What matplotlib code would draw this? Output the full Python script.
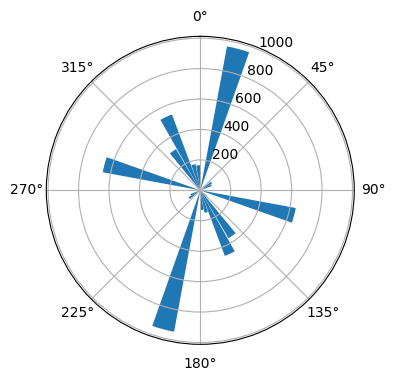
import numpy as np
import matplotlib
matplotlib.use("Agg")
import matplotlib.pyplot as plt

# bin centres (degrees) and bar heights
angles_deg = [5, 15, 25, 35, 45, 55, 65, 75, 85, 95, 105, 115, 125, 135, 145, 155, 165, 175,
              185, 195, 205, 215, 225, 235, 245, 255, 265, 275, 285, 295, 305, 315, 325, 335, 345, 355]
heights = [0, 962, 0, 0, 0, 90, 80, 0, 0, 0, 638, 0, 0, 60, 365, 460, 150, 130,
           0, 945, 0, 0, 0, 90, 70, 0, 0, 0, 652, 0, 0, 0, 314, 532, 175, 165]
bar_width_deg = 9

fig = plt.figure(figsize=(3.96, 3.80), dpi=100)
ax = fig.add_axes([0.1169, 0.0939, 0.7778, 0.8105], projection="polar")
ax.set_theta_zero_location("N")
ax.set_theta_direction(-1)
ax.bar(np.deg2rad(angles_deg), heights, width=np.deg2rad(bar_width_deg), color="C0")
ax.set_ylim(0, 1012)
ax.set_yticks([200, 400, 600, 800, 1000])
fig.savefig("out.png", dpi=100)
